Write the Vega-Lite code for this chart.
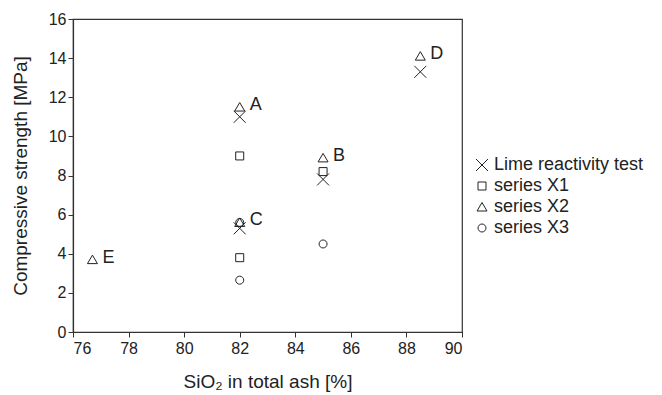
{
  "$schema": "https://vega.github.io/schema/vega-lite/v6.json",
  "width": 389,
  "height": 313,
  "autosize": {"type": "none"},
  "padding": {"left": 73, "top": 19, "right": 200, "bottom": 63},
  "config": {
    "font": "Liberation Sans",
    "view": {"stroke": "#333", "strokeWidth": 1.2},
    "axis": {"labelOverlap": false, "labelSeparation": 0, "labelBound": false},
    "axisY": {"labelOverlap": false},
    "axisQuantitative": {"labelOverlap": false}
  },
  "data": {
    "values": [
      {"sio2": 82.0, "strength": 11.0, "series": "Lime reactivity test"},
      {"sio2": 82.0, "strength": 5.3, "series": "Lime reactivity test"},
      {"sio2": 85.0, "strength": 7.8, "series": "Lime reactivity test"},
      {"sio2": 88.5, "strength": 13.3, "series": "Lime reactivity test"},
      {"sio2": 82.0, "strength": 9.0, "series": "series X1"},
      {"sio2": 82.0, "strength": 3.8, "series": "series X1"},
      {"sio2": 85.0, "strength": 8.2, "series": "series X1"},
      {"sio2": 82.0, "strength": 11.5, "series": "series X2", "label": "A"},
      {"sio2": 85.0, "strength": 8.9, "series": "series X2", "label": "B"},
      {"sio2": 82.0, "strength": 5.6, "series": "series X2", "label": "C"},
      {"sio2": 88.5, "strength": 14.1, "series": "series X2", "label": "D"},
      {"sio2": 76.7, "strength": 3.7, "series": "series X2", "label": "E"},
      {"sio2": 82.0, "strength": 5.6, "series": "series X3"},
      {"sio2": 82.0, "strength": 2.65, "series": "series X3"},
      {"sio2": 85.0, "strength": 4.5, "series": "series X3"}
    ]
  },
  "encoding": {
    "x": {"field": "sio2", "type": "quantitative", "scale": {"domain": [76, 90], "nice": false}, "axis": {"values": [76, 78, 80, 82, 84, 86, 88, 90], "title": "SiO₂ in total ash [%]", "titlePadding": 16, "grid": false, "domainColor": "#333", "tickColor": "#333", "labelColor": "#222", "titleColor": "#222", "labelFontSize": 16, "titleFontSize": 19, "titleFontWeight": "normal", "tickSize": 5, "domainWidth": 1.2, "labelOverlap": false, "labelPadding": 3}},
    "y": {"field": "strength", "type": "quantitative", "scale": {"domain": [0, 16], "nice": false}, "axis": {"values": [0, 2, 4, 6, 8, 10, 12, 14, 16], "tickCount": 9, "title": "Compressive strength [MPa]", "titlePadding": 18, "grid": false, "domainColor": "#333", "tickColor": "#333", "labelColor": "#222", "titleColor": "#222", "labelFontSize": 16, "titleFontSize": 19, "titleFontWeight": "normal", "tickSize": 5, "domainWidth": 1.2, "labelOverlap": false, "labelPadding": 2}}
  },
  "layer": [
    {
      "mark": {"type": "point", "filled": false, "strokeWidth": 1, "opacity": 1, "size": 100},
      "encoding": {
        "shape": {"field": "series", "type": "nominal", "scale": {"domain": ["Lime reactivity test", "series X1", "series X2", "series X3"], "range": ["M-1.2,-1.2L1.2,1.2M-1.2,1.2L1.2,-1.2", "M-0.8,-0.8H0.8V0.8H-0.8Z", "M0,-0.9L1,0.8L-1,0.8Z", "M-0.8,0A0.8,0.8 0 1,0 0.8,0A0.8,0.8 0 1,0 -0.8,0Z"]}, "legend": {"title": null, "orient": "none", "legendX": 400, "legendY": 137, "labelFontSize": 18, "labelColor": "#222", "symbolStrokeColor": "#222", "symbolSize": 100, "symbolStrokeWidth": 1, "rowPadding": 3, "labelOffset": 3}},
        "color": {"value": "#222"}
      }
    },
    {
      "transform": [{"filter": "datum.label != null"}],
      "mark": {"type": "text", "align": "left", "dx": 10, "dy": -2, "fontSize": 18, "color": "#222"},
      "encoding": {
        "text": {"field": "label"}
      }
    }
  ]
}
